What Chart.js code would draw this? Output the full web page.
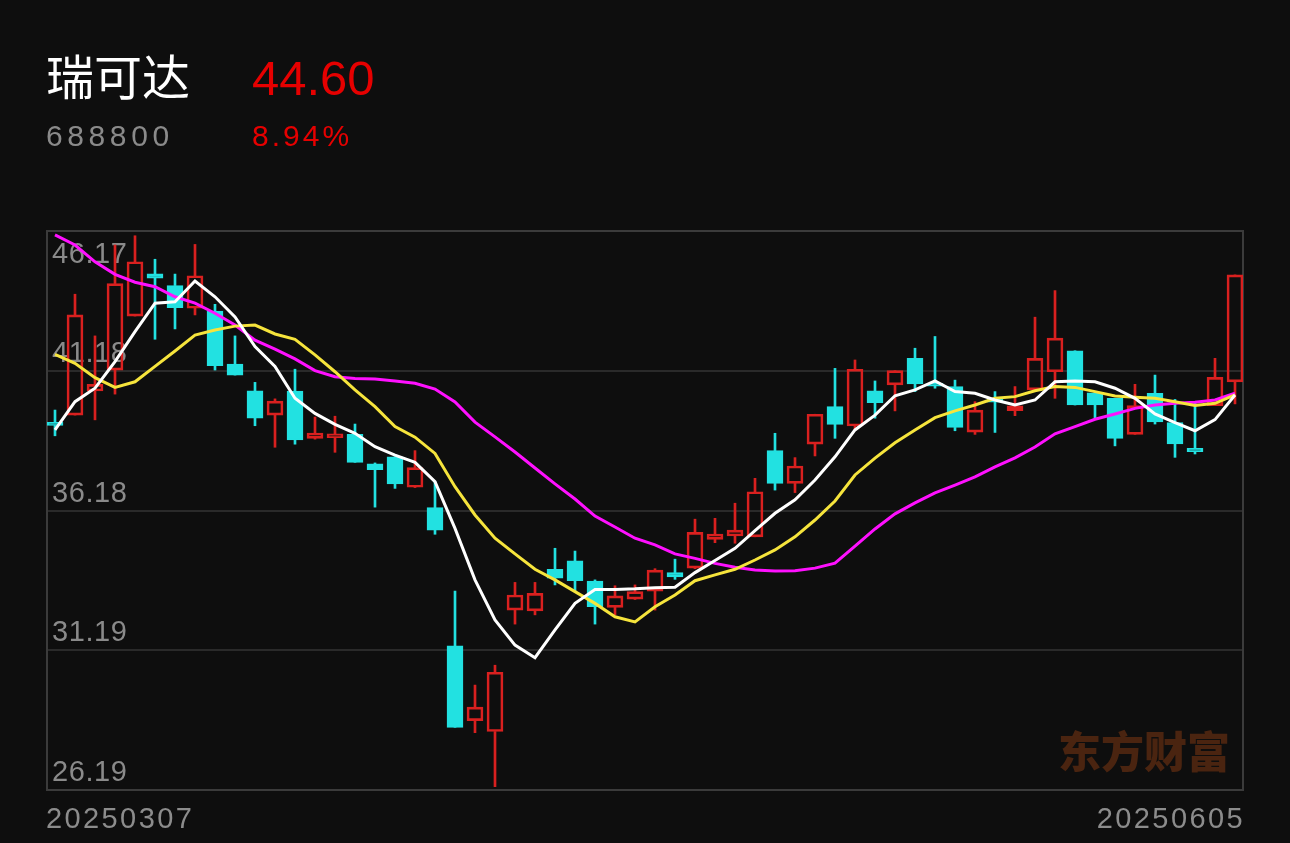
<!DOCTYPE html>
<html>
<head>
<meta charset="utf-8">
<script src="https://cdn.jsdelivr.net/npm/chart.js@4/dist/chart.umd.min.js"></script>
<style>
  html, body { margin: 0; padding: 0; background: #0e0e0e; }
  #wrap { position: relative; width: 1290px; height: 843px; overflow: hidden; }
  #chart { position: absolute; left: 0; top: 0; }
  .txt { position: absolute; white-space: nowrap; line-height: 1; font-family: "Liberation Sans", Arial, sans-serif; }
  #name { left: 46px; top: 50px; font-size: 48px; color: #ffffff; font-family: "Noto Sans CJK SC", sans-serif; }
  #price { left: 252px; top: 54px; font-size: 49px; color: #e60000; }
  #code { left: 46px; top: 121px; font-size: 30px; color: #8a8a8a; letter-spacing: 4.6px; }
  #pct { left: 252px; top: 121px; font-size: 30px; color: #e60000; letter-spacing: 3px; }
  #d1 { left: 46px; top: 804px; font-size: 29px; color: #8c8c8c; letter-spacing: 2.4px; }
  #d2 { right: 45px; top: 804px; font-size: 29px; color: #8c8c8c; letter-spacing: 2.4px; }
  #mark { left: 1058px; top: 728px; font-size: 43px; font-weight: 900; color: #4a2410; font-family: "Noto Sans CJK SC", sans-serif; }
</style>
</head>
<body>
<div id="wrap">
  <canvas id="chart" width="1290" height="843"></canvas>
  <div class="txt" id="name">瑞可达</div>
  <div class="txt" id="price">44.60</div>
  <div class="txt" id="code">688800</div>
  <div class="txt" id="pct">8.94%</div>
  <div class="txt" id="d1">20250307</div>
  <div class="txt" id="d2">20250605</div>
  <div class="txt" id="mark">东方财富</div>
</div>
<script>
'use strict';
//global variables - daily k-line
let openP = [39.33, 39.59, 40.45, 41.20, 43.13, 44.64, 44.22, 43.41, 43.31, 41.41,
  40.46, 39.59, 40.45, 38.76, 38.78, 38.90, 37.85, 38.10, 37.01, 36.28,
  31.34, 28.67, 28.28, 32.62, 32.59, 34.08, 34.38, 33.66, 32.72, 33.01,
  33.30, 33.96, 34.12, 35.15, 35.27, 35.24, 38.32, 37.15, 38.55, 39.89,
  39.20, 40.46, 40.67, 41.62, 40.70, 40.61, 38.98, 40.15, 39.75, 40.49,
  41.14, 41.89, 40.39, 40.19, 38.90, 40.37, 39.32, 38.40, 39.93, 40.78];
let closeP = [39.22, 43.17, 40.69, 44.29, 45.07, 44.48, 43.43, 44.57, 41.36, 41.02,
  39.48, 40.09, 38.70, 38.95, 38.92, 37.90, 37.64, 37.13, 37.71, 35.48,
  28.43, 29.15, 30.40, 33.16, 33.22, 33.76, 33.67, 32.74, 33.13, 33.28,
  34.05, 33.81, 35.40, 35.34, 35.48, 36.85, 37.15, 37.77, 39.62, 39.26,
  41.23, 40.03, 41.18, 40.70, 40.62, 39.15, 39.77, 40.05, 39.92, 41.62,
  42.34, 39.95, 39.95, 38.76, 39.93, 39.35, 38.56, 38.28, 40.94, 44.60];
let highP = [39.77, 43.91, 42.42, 45.67, 46.00, 45.16, 44.63, 45.69, 43.55, 42.42,
  40.76, 40.17, 41.23, 39.52, 39.55, 39.27, 37.88, 38.10, 38.32, 37.21,
  33.30, 29.94, 30.65, 33.61, 33.61, 34.83, 34.73, 33.70, 33.49, 33.52,
  34.10, 34.44, 35.87, 35.90, 36.44, 37.33, 38.94, 38.07, 39.62, 41.26,
  41.56, 40.81, 41.18, 41.98, 42.40, 40.84, 40.07, 40.43, 40.61, 43.09,
  44.04, 41.89, 40.39, 40.19, 40.69, 41.02, 40.15, 40.01, 41.62, 44.60];
let lowP = [38.85, 39.59, 39.42, 40.34, 43.13, 42.30, 42.67, 43.17, 41.20, 41.02,
  39.21, 38.44, 38.55, 38.73, 38.26, 37.90, 36.30, 36.97, 37.00, 35.33,
  28.43, 28.24, 26.31, 32.12, 32.45, 33.52, 33.28, 32.12, 32.45, 33.00,
  32.62, 33.72, 34.10, 35.03, 35.01, 35.24, 36.91, 36.82, 38.13, 38.76,
  39.06, 39.48, 39.74, 40.43, 40.55, 39.03, 38.90, 38.97, 39.57, 40.49,
  40.19, 39.95, 39.48, 38.49, 38.90, 39.27, 38.08, 38.20, 39.93, 39.99];

//moving averages as drawn (they start with values from before the window)
let ma5 = [39.06, 40.07, 40.55, 41.50, 42.57, 43.59, 43.64, 44.38, 43.82, 43.10,
  42.04, 41.33, 40.19, 39.65, 39.26, 38.94, 38.46, 38.16, 37.90, 37.21,
  35.54, 33.70, 32.27, 31.37, 30.92, 31.91, 32.86, 33.36, 33.36, 33.38,
  33.42, 33.44, 33.96, 34.39, 34.83, 35.46, 36.08, 36.56, 37.27, 38.10,
  39.06, 39.59, 40.28, 40.49, 40.81, 40.43, 40.37, 40.13, 39.95, 40.13,
  40.78, 40.81, 40.78, 40.55, 40.19, 39.63, 39.32, 39.03, 39.43, 40.31];
let ma10 = [41.76, 41.44, 40.93, 40.58, 40.78, 41.33, 41.88, 42.45, 42.63, 42.77,
  42.81, 42.49, 42.30, 41.74, 41.14, 40.49, 39.89, 39.18, 38.80, 38.22,
  37.03, 36.02, 35.19, 34.63, 34.08, 33.70, 33.28, 32.86, 32.38, 32.20,
  32.74, 33.16, 33.67, 33.88, 34.08, 34.41, 34.77, 35.24, 35.84, 36.52,
  37.45, 38.05, 38.60, 39.06, 39.50, 39.74, 39.95, 40.19, 40.25, 40.46,
  40.61, 40.58, 40.43, 40.27, 40.23, 40.19, 40.07, 39.93, 40.01, 40.31];
let ma20 = [46.03, 45.67, 45.07, 44.62, 44.34, 44.18, 43.82, 43.59, 43.23, 42.81,
  42.27, 41.95, 41.60, 41.18, 40.96, 40.90, 40.88, 40.81, 40.73, 40.52,
  40.06, 39.34, 38.81, 38.27, 37.70, 37.13, 36.59, 35.98, 35.59, 35.19,
  34.95, 34.63, 34.47, 34.29, 34.15, 34.05, 34.02, 34.03, 34.12, 34.30,
  34.91, 35.52, 36.06, 36.45, 36.81, 37.09, 37.38, 37.74, 38.06, 38.45,
  38.92, 39.18, 39.44, 39.63, 39.83, 39.95, 40.01, 40.05, 40.13, 40.37];

//y axis tick labels
let yTicks = [26.19, 31.19, 36.18, 41.18, 46.17];
//x range (candle index), half a slot of margin each side
let xMin = -0.4;
let xMax = 59.4;

//colours
let upColor = '#d9201f';
let downColor = '#22e1e1';

//build points for the library
function isUp(i){
  return closeP[i] >= openP[i];
}
function getBodies(){
  let arr = [];
  for (let i = 0; i < openP.length; i++){
    arr.push({x: i, y: [openP[i], closeP[i]]});
  }
  return arr;
}
//upper shadow: top of body to high
function getUpperWicks(){
  let arr = [];
  for (let i = 0; i < highP.length; i++){
    arr.push({x: i, y: [Math.max(openP[i], closeP[i]), highP[i]]});
  }
  return arr;
}
//lower shadow: low to bottom of body
function getLowerWicks(){
  let arr = [];
  for (let i = 0; i < lowP.length; i++){
    arr.push({x: i, y: [lowP[i], Math.min(openP[i], closeP[i])]});
  }
  return arr;
}
function getLine(values){
  let arr = [];
  for (let i = 0; i < values.length; i++){
    arr.push({x: i, y: values[i]});
  }
  return arr;
}
function getColors(up, down){
  let arr = [];
  for (let i = 0; i < openP.length; i++){
    arr.push(isUp(i) ? up : down);
  }
  return arr;
}

//labels + frame drawn under the candles
let framePlugin = {
  id: 'frame',
  beforeDatasetsDraw(chart){
    let ctx = chart.ctx;
    let area = chart.chartArea;
    let yScale = chart.scales.y;
    ctx.save();
    ctx.strokeStyle = '#3b3b3b';
    ctx.lineWidth = 2;
    ctx.strokeRect(area.left, area.top, area.right - area.left, area.bottom - area.top);
    ctx.fillStyle = '#8a8a8a';
    ctx.font = '29px "Liberation Sans", Arial, sans-serif';
    ctx.letterSpacing = '0.6px';
    ctx.textAlign = 'left';
    ctx.textBaseline = 'alphabetic';
    for (let i = 0; i < yTicks.length; i++){
      let py = yScale.getPixelForValue(yTicks[i]);
      let base = (i === yTicks.length - 1) ? py + 32 : py - 9;
      ctx.fillText(yTicks[i].toFixed(2), area.left + 5, base);
    }
    ctx.restore();
  }
};

function lineSet(values, color){
  return {
    type: 'line',
    data: getLine(values),
    borderColor: color,
    borderWidth: 3,
    pointRadius: 0,
    tension: 0,
    fill: false
  };
}
function wickSet(points){
  return {
    type: 'bar',
    data: points,
    backgroundColor: getColors(upColor, downColor),
    borderWidth: 0,
    barThickness: 2,
    grouped: false
  };
}

//renders the k-line chart
function renderChart(){
  let ctx = document.getElementById('chart').getContext('2d');
  new Chart(ctx, {
    type: 'bar',
    data: {
      datasets: [
        lineSet(ma5, '#ffffff'),
        lineSet(ma10, '#f6e43c'),
        lineSet(ma20, '#ff10ff'),
        {
          type: 'bar',
          data: getBodies(),
          backgroundColor: getColors('rgba(0,0,0,0)', downColor),
          borderColor: getColors(upColor, downColor),
          borderWidth: 2,
          borderSkipped: false,
          barThickness: 16,
          minBarLength: 3,
          grouped: false
        },
        wickSet(getUpperWicks()),
        wickSet(getLowerWicks())
      ]
    },
    options: {
      responsive: false,
      animation: false,
      devicePixelRatio: 1,
      layout: {
        padding: {left: 47, right: 47, top: 231, bottom: 53}
      },
      plugins: {
        legend: {display: false},
        tooltip: {enabled: false}
      },
      scales: {
        x: {
          type: 'linear',
          display: false,
          offset: false,
          bounds: 'data',
          min: xMin,
          max: xMax,
          afterBuildTicks: function (scale){
            scale.min = xMin;
            scale.max = xMax;
          }
        },
        y: {
          min: yTicks[0],
          max: yTicks[yTicks.length - 1],
          afterBuildTicks: function (scale){
            scale.ticks = yTicks.map(function (v){ return {value: v}; });
          },
          ticks: {display: false},
          border: {display: false},
          grid: {
            color: '#2a2a2a',
            lineWidth: 2,
            drawTicks: false
          }
        }
      }
    },
    plugins: [framePlugin]
  });
}

renderChart();
</script>
</body>
</html>
